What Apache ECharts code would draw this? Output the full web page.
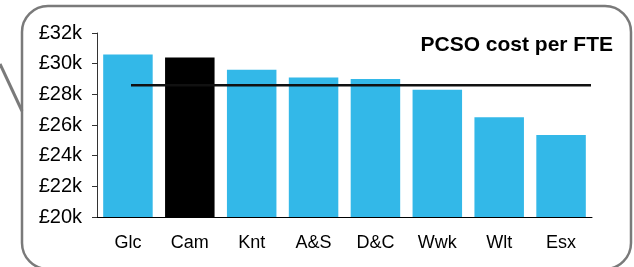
<!DOCTYPE html>
<html>
<head>
<meta charset="utf-8">
<script src="https://cdn.jsdelivr.net/npm/echarts@6/dist/echarts.min.js"></script>
<style>html,body{margin:0;padding:0;background:#fff;}#c{width:634px;height:267px;}</style>
</head>
<body>
<div id="c"></div>
<script>
const categories = ['Glc','Cam','Knt','A&S','D&C','Wwk','Wlt','Esx'];
const costValues = [30.6, 30.4, 29.6, 29.1, 29.0, 28.3, 26.5, 25.35];
const averageValues = [28.6, 28.6, 28.6, 28.6, 28.6, 28.6, 28.6, 28.6];
const highlightCategory = 'Cam';
const yTickValues = [20, 22, 24, 26, 28, 30, 32];
const chartTitle = 'PCSO cost per FTE';

const FONT = 'Liberation Sans, Arial, sans-serif';
const chart = echarts.init(document.getElementById('c'), null, {renderer: 'canvas'});
chart.setOption({
  animation: false,
  title: {
    text: chartTitle, right: 16, top: 30,
    textStyle: {fontFamily: FONT, fontWeight: 'bold', fontSize: 21, color: '#000'}
  },
  graphic: [
    {type: 'rect', shape: {x: 22, y: 6, width: 609, height: 263, r: 26},
     style: {fill: 'none', stroke: '#7a7a7a', lineWidth: 2.5}, z: 100},
    {type: 'line', shape: {x1: 0, y1: 64, x2: 22, y2: 111},
     style: {stroke: '#7a7a7a', lineWidth: 3}, z: 100}
  ],
  grid: [
    {left: 97, right: 42, top: 33, bottom: 50},
    {left: 131, right: 43, top: 33, bottom: 50}
  ],
  xAxis: [
    {type: 'category', gridIndex: 0, data: categories,
     axisLine: {lineStyle: {color: '#000', width: 1}}, axisTick: {show: false},
     axisLabel: {fontFamily: FONT, fontSize: 18, color: '#000', margin: 17}},
    {type: 'category', gridIndex: 1, data: categories, boundaryGap: false, show: false}
  ],
  yAxis: [
    {type: 'value', gridIndex: 0, min: 20, max: 32, interval: 2,
     axisLine: {show: true, lineStyle: {color: '#333', width: 1}},
     axisTick: {show: true, inside: false, length: 5, lineStyle: {color: '#333'}},
     splitLine: {show: false},
     axisLabel: {fontFamily: FONT, fontSize: 20, color: '#000', margin: 15,
       formatter: v => yTickValues.includes(v) ? '£' + v + 'k' : ''}},
    {type: 'value', gridIndex: 1, min: 20, max: 32, show: false}
  ],
  series: [
    {type: 'bar', xAxisIndex: 0, yAxisIndex: 0, barCategoryGap: '20%',
     data: costValues.map((v, i) => ({value: v, itemStyle: {color: categories[i] === highlightCategory ? '#000' : '#33b8e8'}}))},
    {type: 'line', xAxisIndex: 1, yAxisIndex: 1, data: averageValues, showSymbol: false,
     lineStyle: {color: '#111', width: 2.5}, z: 5}
  ]
});
</script>
</body>
</html>
